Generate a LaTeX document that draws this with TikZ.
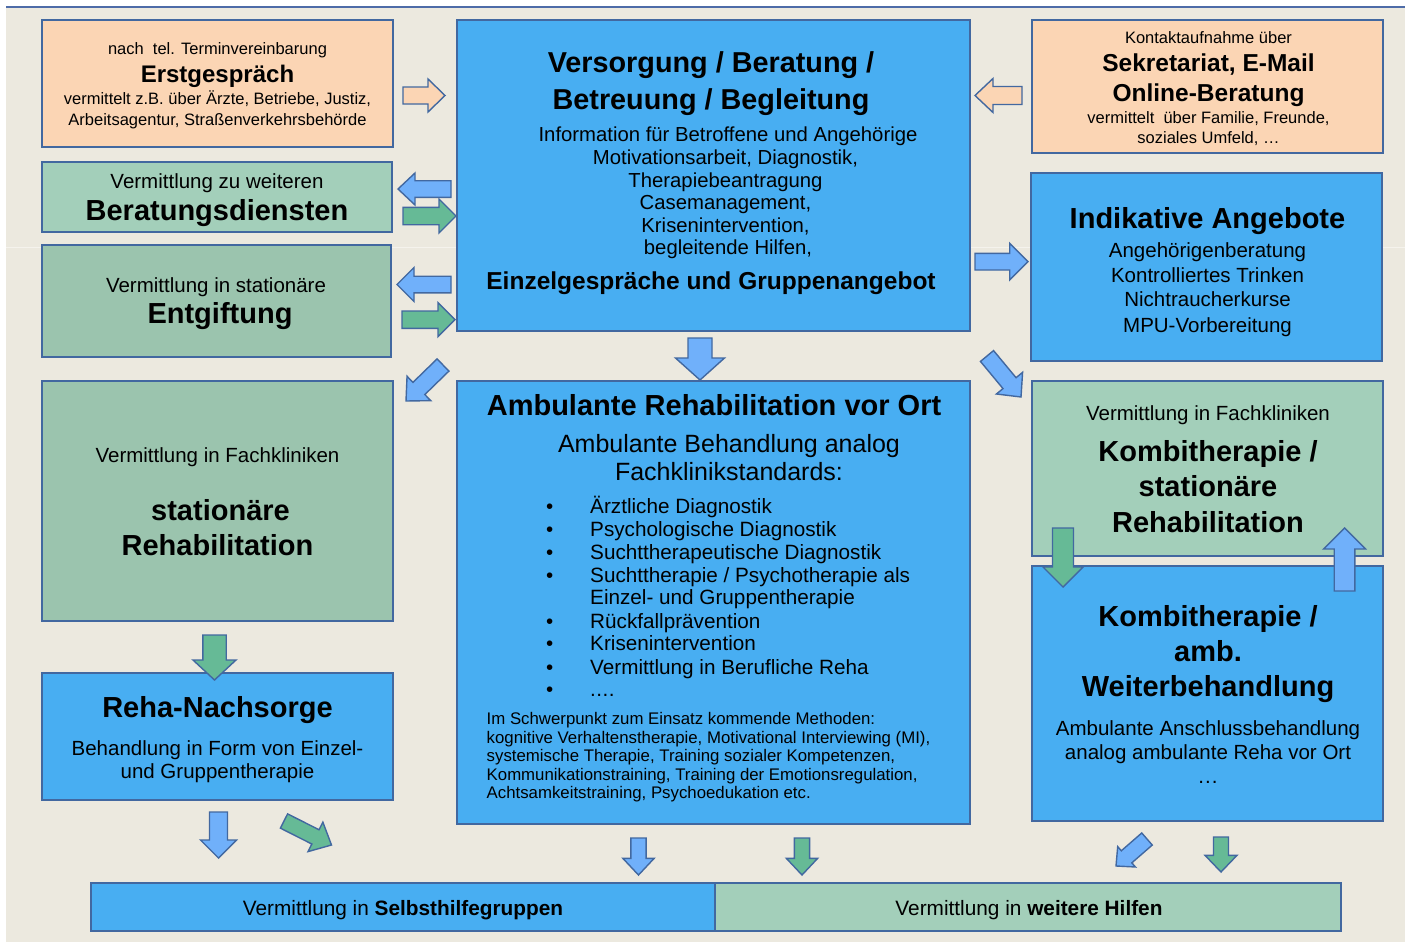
\documentclass[tikz,border=0pt]{standalone}
\usepackage{fontspec}
\setmainfont{Liberation Sans}
\usetikzlibrary{calc}
\definecolor{bgc}{RGB}{236,233,223}
\definecolor{seam}{RGB}{245,243,237}
\definecolor{topline}{RGB}{78,108,168}
\definecolor{bord}{RGB}{66,104,160}
\definecolor{peach}{RGB}{251,213,180}
\definecolor{greenA}{RGB}{163,207,186}
\definecolor{greenB}{RGB}{155,196,174}
\definecolor{bluebox}{RGB}{72,174,242}
\definecolor{arrblue}{RGB}{112,176,250}
\definecolor{arrgreen}{RGB}{102,186,150}
\newcommand\fsz[1]{\fontsize{#1}{#1}\selectfont}
\newcommand\fourdots{.\kern0.5pt.\kern0.5pt.\kern0.5pt.}
% block arrow: #1 style, #2 tail coordinate, #3 tip coordinate, #4 shaft half width, #5 head half width, #6 head length
\newcommand\blockarr[6]{%
  \coordinate (hb) at ($(#3)!#6!(#2)$);
  \draw[#1] ($(#2)!#4!90:(#3)$) -- ($(hb)!#4!90:(#3)$) -- ($(hb)!#5!90:(#3)$) -- (#3)
    -- ($(hb)!#5!-90:(#3)$) -- ($(hb)!#4!-90:(#3)$) -- ($(#2)!#4!-90:(#3)$) -- cycle;
}
\begin{document}
\begin{tikzpicture}[x=1pt,y=-1pt,
  box/.style={draw=bord, line width=2pt, inner sep=0pt, outer sep=0pt, anchor=north west},
  bbox/.style={box, fill=bluebox},
  pbox/.style={box, fill=peach},
  gAbox/.style={box, fill=greenA},
  gBbox/.style={box, fill=greenB},
  txt/.style={inner sep=0pt, anchor=base},
  ltxt/.style={inner sep=0pt, anchor=base west},
  barrow/.style={fill=arrblue, draw=bord, line width=1.4pt},
  garrow/.style={fill=arrgreen, draw=bord, line width=1.4pt},
  parrow/.style={fill=peach, draw=bord, line width=1.4pt}]
\useasboundingbox (0,0) rectangle (1405,942);
\fill[white] (0,0) rectangle (1405,942);
\fill[bgc] (6,8) rectangle (1405,942);
\draw[seam, line width=1pt] (6,247) -- (1405,247);
\draw[topline, line width=2pt] (6,7) -- (1405,7);

% ---------- boxes ----------
\node[pbox, minimum width=351pt, minimum height=127pt] (erst) at (42,20) {};
\node[gAbox, minimum width=350pt, minimum height=70pt] (berat) at (42,162) {};
\node[gBbox, minimum width=349pt, minimum height=112pt] (entg) at (42,245) {};
\node[gBbox, minimum width=351pt, minimum height=240pt] (streha) at (42,381) {};
\node[bbox, minimum width=351pt, minimum height=127pt] (nachs) at (42,673) {};
\node[bbox, minimum width=513pt, minimum height=311pt] (vers) at (457,20) {};
\node[bbox, minimum width=513pt, minimum height=443pt] (amb) at (457,381) {};
\node[pbox, minimum width=351pt, minimum height=133pt] (sekr) at (1032,20) {};
\node[bbox, minimum width=351pt, minimum height=188pt] (indik) at (1031,173) {};
\node[gAbox, minimum width=351pt, minimum height=175pt] (kstat) at (1032,381) {};
\node[bbox, minimum width=351pt, minimum height=255pt] (kamb) at (1032,566) {};
\node[bbox, minimum width=624pt, minimum height=48pt] (selbst) at (91,883) {};
\node[gAbox, minimum width=626pt, minimum height=48pt] (weit) at (715,883) {};

% ---------- texts ----------
% Erstgespraech
\node[txt, font=\fsz{16.5}] (e1) at (217.5,55) {nach\ \ tel. Terminvereinbarung};
\node[txt, font=\fsz{24}\bfseries] (e2) at (217.5,82) {Erstgespräch};
\node[txt, font=\fsz{16.5}] (e3) at (217.5,104) {vermittelt z.B. über Ärzte, Betriebe, Justiz,};
\node[txt, font=\fsz{16.5}] (e4) at (217.5,125) {Arbeitsagentur, Straßenverkehrsbehörde};
% Beratungsdienste
\node[txt, font=\fsz{20.5}] (b1) at (217,188) {Vermittlung zu weiteren};
\node[txt, font=\fsz{29}\bfseries] (b2) at (217,220) {Beratungsdiensten};
% Entgiftung
\node[txt, font=\fsz{20.5}] (g1) at (216,292) {Vermittlung in stationäre};
\node[txt, font=\fsz{29}\bfseries] (g2) at (220,323) {Entgiftung};
% stationaere Reha
\node[txt, font=\fsz{20.5}] (s1) at (217.5,462) {Vermittlung in Fachkliniken};
\node[txt, font=\fsz{29}\bfseries] (s2) at (220.5,520) {stationäre};
\node[txt, font=\fsz{29}\bfseries] (s3) at (217.5,555) {Rehabilitation};
% Reha-Nachsorge
\node[txt, font=\fsz{29}\bfseries] (n1) at (217.5,717) {Reha-Nachsorge};
\node[txt, font=\fsz{20.5}] (n2) at (217.5,755) {Behandlung in Form von Einzel-};
\node[txt, font=\fsz{20.5}] (n3) at (217.5,778) {und Gruppentherapie};
% Versorgung
\node[txt, font=\fsz{28.8}\bfseries] (v1) at (711,73) {Versorgung / Beratung /};
\node[txt, font=\fsz{28.8}\bfseries] (v2) at (711,109) {Betreuung / Begleitung};
\node[txt, font=\fsz{20.3}] (v3) at (728,141.7) {Information für Betroffene und Angehörige};
\node[txt, font=\fsz{20.3}] (v4) at (725.5,164.5) {Motivationsarbeit, Diagnostik,};
\node[txt, font=\fsz{20.3}] (v5) at (725.5,187) {Therapiebeantragung};
\node[txt, font=\fsz{20.3}] (v6) at (725.5,209.5) {Casemanagement,};
\node[txt, font=\fsz{20.3}] (v7) at (725.5,232) {Krisenintervention,};
\node[txt, font=\fsz{20.3}] (v8) at (728,254.5) {begleitende Hilfen,};
\node[txt, font=\fsz{24.5}\bfseries] (v9) at (711,289.3) {Einzelgespräche und Gruppenangebot};
% Ambulante Reha
\node[txt, font=\fsz{29}\bfseries] (a1) at (714,415.6) {Ambulante Rehabilitation vor Ort};
\node[txt, font=\fsz{25}] (a2) at (729,452.8) {Ambulante Behandlung analog};
\node[txt, font=\fsz{25}] (a3) at (729,480) {Fachklinikstandards:};
\foreach \y/\t [count=\i] in {513.6/{Ärztliche Diagnostik}, 536.6/{Psychologische Diagnostik},
   559/{Suchttherapeutische Diagnostik}, 582/{Suchttherapie / Psychotherapie als},
   628.4/{Rückfallprävention}, 650.4/{Krisenintervention}, 674/{Vermittlung in Berufliche Reha}, 696/{\fourdots}}{
  \node[txt, font=\fsz{20.5}] (bul\i) at (549.7,\y) {•};
  \node[ltxt, font=\fsz{20.7}] (it\i) at (590,\y) {\t};
}
\node[ltxt, font=\fsz{20.7}] (itc) at (590,604.8) {Einzel- und Gruppentherapie};
\node[ltxt, font=\fsz{16.8}] (m1) at (486.5,724.7) {Im Schwerpunkt zum Einsatz kommende Methoden:};
\node[ltxt, font=\fsz{16.8}] (m2) at (486.5,743.3) {kognitive Verhaltenstherapie, Motivational Interviewing (MI),};
\node[ltxt, font=\fsz{16.8}] (m3) at (486.5,761.9) {systemische Therapie, Training sozialer Kompetenzen,};
\node[ltxt, font=\fsz{16.8}] (m4) at (486.5,780.5) {Kommunikationstraining, Training der Emotionsregulation,};
\node[ltxt, font=\fsz{16.8}] (m5) at (486.5,798.4) {Achtsamkeitstraining, Psychoedukation etc.};
% Sekretariat
\node[txt, font=\fsz{16.5}] (k1) at (1208.5,43.4) {Kontaktaufnahme über};
\node[txt, font=\fsz{24.5}\bfseries] (k2) at (1208.5,71) {Sekretariat, E-Mail};
\node[txt, font=\fsz{24.5}\bfseries] (k3) at (1208.5,101) {Online-Beratung};
\node[txt, font=\fsz{16.5}] (k4) at (1208.5,123.7) {vermittelt\ \ über Familie, Freunde,};
\node[txt, font=\fsz{16.5}] (k5) at (1208.5,143) {soziales Umfeld, …};
% Indikative Angebote
\node[txt, font=\fsz{29}\bfseries] (i1) at (1207.5,228.6) {Indikative Angebote};
\node[txt, font=\fsz{20.5}] (i2) at (1207.5,257) {Angehörigenberatung};
\node[txt, font=\fsz{20.5}] (i3) at (1207.5,282) {Kontrolliertes Trinken};
\node[txt, font=\fsz{20.5}] (i4) at (1207.5,306.7) {Nichtraucherkurse};
\node[txt, font=\fsz{20.5}] (i5) at (1207.5,332.5) {MPU-Vorbereitung};
% Kombi stationaer
\node[txt, font=\fsz{20.5}] (ks1) at (1208,420) {Vermittlung in Fachkliniken};
\node[txt, font=\fsz{29}\bfseries] (ks2) at (1208,461.7) {Kombitherapie /};
\node[txt, font=\fsz{29}\bfseries] (ks3) at (1208,496.7) {stationäre};
\node[txt, font=\fsz{29}\bfseries] (ks4) at (1208,532.7) {Rehabilitation};
% Kombi ambulant
\node[txt, font=\fsz{29}\bfseries] (ka1) at (1208,626.7) {Kombitherapie /};
\node[txt, font=\fsz{29}\bfseries] (ka2) at (1208,661.7) {amb.};
\node[txt, font=\fsz{29}\bfseries] (ka3) at (1208,696.7) {Weiterbehandlung};
\node[txt, font=\fsz{20.5}] (ka4) at (1208,735) {Ambulante Anschlussbehandlung};
\node[txt, font=\fsz{20.5}] (ka5) at (1208,759.3) {analog ambulante Reha vor Ort};
\node[txt, font=\fsz{20.5}] (ka6) at (1208,783) {.\kern1pt.\kern1pt.};
% bottom
\node[txt, font=\fsz{20.8}] (sb) at (403,915) {Vermittlung in \textbf{Selbsthilfegruppen}};
\node[txt, font=\fsz{20.8}] (wb) at (1029,915) {Vermittlung in \textbf{weitere Hilfen}};

% ---------- arrows ----------
\coordinate (p1t) at (403,95.5);   \coordinate (p1h) at (445,95.5);
\coordinate (p2t) at (1022,95.5);  \coordinate (p2h) at (975,95.5);
\coordinate (l1t) at (451,189);    \coordinate (l1h) at (398,189);
\coordinate (r1t) at (403,216);    \coordinate (r1h) at (456,216);
\coordinate (l2t) at (451,284.5);  \coordinate (l2h) at (397,284.5);
\coordinate (r2t) at (402,319.7);  \coordinate (r2h) at (455,319.7);
\coordinate (d1t) at (443,365);    \coordinate (d1h) at (406,401);
\coordinate (c1t) at (700,338);    \coordinate (c1h) at (700,380);
\coordinate (r3t) at (975,261.7);  \coordinate (r3h) at (1028,261.7);
\coordinate (d2t) at (987,356);    \coordinate (d2h) at (1021,397);
\coordinate (g1t) at (214.5,635);  \coordinate (g1h) at (214.5,680);
\coordinate (g2t) at (1063,528);   \coordinate (g2h) at (1063,587);
\coordinate (u1t) at (1344.5,591); \coordinate (u1h) at (1344.5,528);
\coordinate (b1t) at (218.5,812);  \coordinate (b1h) at (218.5,858);
\coordinate (b2t) at (284,821);    \coordinate (b2h) at (331.5,845);
\coordinate (b3t) at (638.5,838);  \coordinate (b3h) at (638.5,875);
\coordinate (b4t) at (802,838);    \coordinate (b4h) at (802,875);
\coordinate (b5t) at (1147,839);   \coordinate (b5h) at (1116,866);
\coordinate (b6t) at (1221,837);   \coordinate (b6h) at (1221,872);

\blockarr{parrow}{p1t}{p1h}{8.5pt}{16.5pt}{17pt}
\blockarr{parrow}{p2t}{p2h}{9pt}{17pt}{18pt}
\blockarr{barrow}{l1t}{l1h}{8.3pt}{16pt}{17pt}
\blockarr{garrow}{r1t}{r1h}{8.7pt}{17pt}{17pt}
\blockarr{barrow}{l2t}{l2h}{8.3pt}{17pt}{17pt}
\blockarr{garrow}{r2t}{r2h}{8.7pt}{17pt}{17pt}
\blockarr{barrow}{d1t}{d1h}{8.5pt}{17pt}{18pt}
\blockarr{barrow}{c1t}{c1h}{12pt}{24.5pt}{22pt}
\blockarr{barrow}{r3t}{r3h}{8.3pt}{18.3pt}{18.3pt}
\blockarr{barrow}{d2t}{d2h}{8.5pt}{17pt}{18pt}
\blockarr{garrow}{g1t}{g1h}{11.7pt}{21.5pt}{20pt}
\blockarr{garrow}{g2t}{g2h}{10.5pt}{20pt}{20pt}
\blockarr{barrow}{u1t}{u1h}{10.3pt}{21pt}{21pt}
\blockarr{barrow}{b1t}{b1h}{9pt}{18pt}{18pt}
\blockarr{garrow}{b2t}{b2h}{8pt}{16.5pt}{18pt}
\blockarr{barrow}{b3t}{b3h}{7.6pt}{15.7pt}{16.7pt}
\blockarr{garrow}{b4t}{b4h}{7.6pt}{15.7pt}{16.7pt}
\blockarr{barrow}{b5t}{b5h}{8pt}{13.5pt}{14pt}
\blockarr{garrow}{b6t}{b6h}{7.5pt}{16pt}{16.7pt}
\end{tikzpicture}
\end{document}
